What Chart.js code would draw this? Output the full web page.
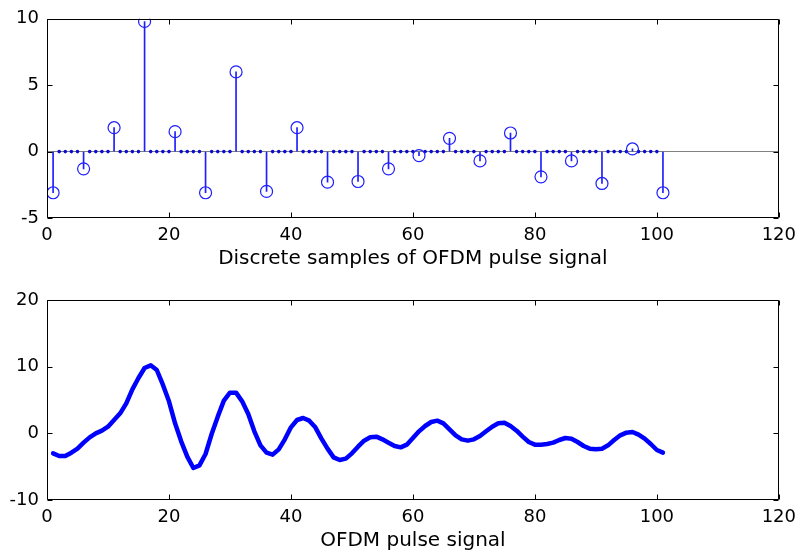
<!DOCTYPE html>
<html><head><meta charset="utf-8">
<script src="https://cdn.jsdelivr.net/npm/chart.js@4.4.1/dist/chart.umd.min.js"></script>
<style>
html,body{margin:0;padding:0;background:#fff;}
#wrap{position:relative;width:803px;height:551px;overflow:hidden;}
#c1{position:absolute;left:0;top:0;}
#c2{position:absolute;left:0;top:280px;}
</style></head><body>
<div id="wrap"><canvas id="c1" width="803" height="275"></canvas><canvas id="c2" width="803" height="271"></canvas></div>
<script>
// Discrete samples (n = 1..101): a nonzero stem every 5th sample, zeros between
const discreteSamples = [
  -3.1, 0, 0, 0, 0,
  -1.3, 0, 0, 0, 0,
   1.8, 0, 0, 0, 0,
   9.8, 0, 0, 0, 0,
   1.5, 0, 0, 0, 0,
  -3.1, 0, 0, 0, 0,
   6.0, 0, 0, 0, 0,
  -3.0, 0, 0, 0, 0,
   1.8, 0, 0, 0, 0,
  -2.3, 0, 0, 0, 0,
  -2.25, 0, 0, 0, 0,
  -1.3, 0, 0, 0, 0,
  -0.3, 0, 0, 0, 0,
   1.0, 0, 0, 0, 0,
  -0.7, 0, 0, 0, 0,
   1.4, 0, 0, 0, 0,
  -1.9, 0, 0, 0, 0,
  -0.7, 0, 0, 0, 0,
  -2.4, 0, 0, 0, 0,
   0.2, 0, 0, 0, 0,
  -3.1
];
// OFDM pulse signal (n = 1..101)
const pulseSignal = [
  -3.0, -3.4, -3.4, -2.9, -2.3, -1.4, -0.6, 0.0, 0.4, 1.0,
   2.0, 3.0, 4.5, 6.6, 8.3, 9.8, 10.2, 9.5, 7.3, 4.8,
   1.5, -1.2, -3.5, -5.2, -4.8, -3.1, -0.1, 2.5, 4.9, 6.1,
   6.1, 4.8, 2.9, 0.3, -1.8, -2.9, -3.2, -2.4, -0.9, 0.9,
   2.0, 2.3, 1.9, 0.9, -0.8, -2.3, -3.6, -4.0, -3.8, -3.0,
  -2.0, -1.1, -0.6, -0.5, -0.9, -1.4, -1.9, -2.1, -1.7, -0.7,
   0.3, 1.1, 1.7, 1.9, 1.5, 0.6, -0.3, -0.9, -1.1, -0.9,
  -0.4, 0.3, 1.0, 1.5, 1.6, 1.1, 0.4, -0.5, -1.3, -1.7,
  -1.7, -1.6, -1.4, -1.0, -0.7, -0.8, -1.3, -1.9, -2.3, -2.4,
  -2.3, -1.8, -1.0, -0.3, 0.1, 0.2, -0.2, -0.8, -1.6, -2.5,
  -2.9
];
const xTicks = [0, 20, 40, 60, 80, 100, 120];
const topYTicks = [-5, 0, 5, 10];
const bottomYTicks = [-10, 0, 10, 20];
const topXLabel = 'Discrete samples of OFDM pulse signal';
const bottomXLabel = 'OFDM pulse signal';

const FAMILY = '"DejaVu Sans", "Liberation Sans", Arial, sans-serif';
const FONT = {family: FAMILY, size: 18};
const TITLE_FONT = {family: FAMILY, size: 20, lineHeight: 1.0};
const BLUE = 'rgb(30,30,255)';

const samplePts = discreteSamples.map((v, i) => ({x: i + 1, y: v}));
const stemPts = samplePts.filter(p => p.y !== 0);
const zeroPts = samplePts.filter(p => p.y === 0);
const pulsePts = pulseSignal.map((v, i) => ({x: i + 1, y: v}));

const boxPlugin = {
  id: 'box',
  afterDraw(chart) {
    const {ctx, chartArea: a, scales: {x, y}} = chart;
    ctx.save();
    ctx.strokeStyle = '#000';
    ctx.lineWidth = 1;
    const L = Math.round(a.left) + 0.5, R = Math.round(a.right) - 0.5;
    const T = Math.round(a.top) + 0.5, B = Math.round(a.bottom) - 0.5;
    ctx.beginPath();
    ctx.rect(L, T, R - L, B - T);
    x.ticks.forEach(t => {
      const px = Math.round(x.getPixelForValue(t.value)) + 0.5;
      ctx.moveTo(px, B); ctx.lineTo(px, B - 5);
      ctx.moveTo(px, T); ctx.lineTo(px, T + 5);
    });
    y.ticks.forEach(t => {
      const py = Math.round(y.getPixelForValue(t.value)) + 0.5;
      ctx.moveTo(L, py); ctx.lineTo(L + 5, py);
      ctx.moveTo(R, py); ctx.lineTo(R - 5, py);
    });
    ctx.stroke();
    ctx.restore();
  }
};

function xScale(title, height, titlePad) {
  return {
    type: 'linear', min: xTicks[0], max: xTicks[xTicks.length - 1], offset: false,
    afterBuildTicks: s => { s.ticks = xTicks.map(v => ({value: v})); },
    afterFit: s => { s.height = height; },
    grid: {display: false, drawTicks: false},
    border: {display: false},
    ticks: {font: FONT, color: '#000', padding: 7, maxRotation: 0, autoSkip: false},
    title: {display: true, text: title, font: TITLE_FONT, color: '#000', padding: titlePad}
  };
}
function yScale(ticks, zeroLine) {
  return {
    type: 'linear', min: ticks[0], max: ticks[ticks.length - 1],
    afterBuildTicks: s => { s.ticks = ticks.map(v => ({value: v})); },
    afterFit: s => { s.width = 47; },
    grid: {
      display: zeroLine, drawTicks: false,
      color: c => (c.tick && c.tick.value === 0) ? 'rgb(128,128,128)' : 'rgba(0,0,0,0)',
      lineWidth: 1
    },
    border: {display: false},
    ticks: {font: FONT, color: '#000', padding: 8, autoSkip: false}
  };
}

new Chart(document.getElementById('c1'), {
  type: 'scatter',
  data: {
    datasets: [
      {type: 'bar', data: stemPts, backgroundColor: BLUE, borderWidth: 0,
       barThickness: 1, grouped: false, order: 3},
      {type: 'scatter', data: zeroPts, pointStyle: 'circle', pointRadius: 1.8,
       pointBackgroundColor: 'rgb(10,10,210)', pointBorderWidth: 0, order: 2},
      {type: 'scatter', data: stemPts, pointStyle: 'circle', pointRadius: 6,
       pointBackgroundColor: 'rgba(0,0,0,0)', pointBorderColor: BLUE,
       pointBorderWidth: 1.2, order: 1}
    ]
  },
  options: {
    responsive: false, animation: false, devicePixelRatio: 1,
    layout: {padding: {left: 0, top: 17, right: 21, bottom: 0}},
    plugins: {legend: {display: false}, tooltip: {enabled: false}},
    scales: {x: xScale(topXLabel, 57, {top: 0, bottom: 6}), y: yScale(topYTicks, true)}
  },
  plugins: [boxPlugin]
});

new Chart(document.getElementById('c2'), {
  type: 'scatter',
  data: {
    datasets: [
      {data: pulsePts, showLine: true, borderColor: 'rgb(0,0,255)', borderWidth: 4.5,
       pointRadius: 0, tension: 0, borderJoinStyle: 'round', borderCapStyle: 'round'}
    ]
  },
  options: {
    responsive: false, animation: false, devicePixelRatio: 1,
    layout: {padding: {left: 0, top: 20, right: 21, bottom: 0}},
    plugins: {legend: {display: false}, tooltip: {enabled: false}},
    scales: {x: xScale(bottomXLabel, 51, {top: 0, bottom: 0}), y: yScale(bottomYTicks, false)}
  },
  plugins: [boxPlugin]
});
</script>
</body></html>
